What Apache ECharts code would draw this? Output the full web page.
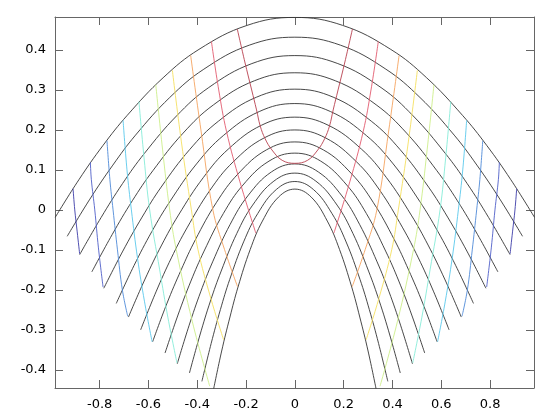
<!DOCTYPE html>
<html><head><meta charset="utf-8">
<script src="https://cdn.jsdelivr.net/npm/echarts@6/dist/echarts.min.js"></script>
<style>html,body{margin:0;padding:0;background:#fff}#c{width:560px;height:420px}</style>
</head><body><div id="c"></div>
<script>
// tick labels
const xTicks = [-0.8, -0.6, -0.4, -0.2, 0, 0.2, 0.4, 0.6, 0.8];
const yTicks = [-0.4, -0.3, -0.2, -0.1, 0, 0.1, 0.2, 0.3, 0.4];

// black rows: left half [x, y], from x=0 to left end (mirror gives right half)
const rows = [
 [[0,0.4815],[-0.196,0.4615],[-0.393,0.4015],[-0.540,0.3305],[-0.687,0.2365],[-0.786,0.1615],[-0.884,0.0765],[-0.982,-0.0185]],
 [[0,0.432],[-0.187,0.412],[-0.373,0.352],[-0.513,0.281],[-0.653,0.187],[-0.746,0.112],[-0.840,0.027],[-0.933,-0.066]],
 [[0,0.386],[-0.176,0.366],[-0.353,0.306],[-0.485,0.235],[-0.617,0.141],[-0.706,0.066],[-0.794,-0.019],[-0.882,-0.112]],
 [[0,0.343],[-0.166,0.323],[-0.333,0.263],[-0.458,0.192],[-0.582,0.098],[-0.666,0.023],[-0.749,-0.062],[-0.832,-0.155]],
 [[0,0.302],[-0.157,0.282],[-0.313,0.222],[-0.431,0.151],[-0.548,0.057],[-0.626,-0.018],[-0.705,-0.103],[-0.783,-0.196]],
 [[0,0.266],[-0.146,0.246],[-0.293,0.186],[-0.403,0.115],[-0.512,0.021],[-0.586,-0.054],[-0.659,-0.139],[-0.732,-0.234]],
 [[0,0.232],[-0.136,0.212],[-0.273,0.152],[-0.375,0.081],[-0.477,-0.013],[-0.546,-0.088],[-0.614,-0.173],[-0.682,-0.268]],
 [[0,0.200],[-0.126,0.180],[-0.253,0.120],[-0.348,0.049],[-0.442,-0.045],[-0.506,-0.120],[-0.569,-0.205],[-0.632,-0.300]],
 [[0,0.170],[-0.117,0.150],[-0.233,0.090],[-0.321,0.019],[-0.408,-0.075],[-0.466,-0.150],[-0.525,-0.235],[-0.583,-0.330]],
 [[0,0.142],[-0.106,0.122],[-0.213,0.062],[-0.293,-0.009],[-0.372,-0.103],[-0.426,-0.178],[-0.479,-0.263],[-0.532,-0.358]],
 [[0,0.115],[-0.096,0.095],[-0.193,0.035],[-0.265,-0.036],[-0.337,-0.130],[-0.386,-0.205],[-0.434,-0.290],[-0.482,-0.385]],
 [[0,0.092],[-0.086,0.072],[-0.173,0.012],[-0.238,-0.059],[-0.302,-0.153],[-0.346,-0.228],[-0.389,-0.313],[-0.432,-0.408]],
 [[0,0.071],[-0.076,0.051],[-0.152,-0.009],[-0.210,-0.080],[-0.267,-0.174],[-0.305,-0.249],[-0.343,-0.334],[-0.381,-0.429]],
 [[0,0.052],[-0.067,0.032],[-0.133,-0.028],[-0.183,-0.099],[-0.233,-0.193],[-0.266,-0.268],[-0.300,-0.353],[-0.333,-0.448]]
];

// coloured contour lines: left side, top to bottom (mirrored for right side)
const contours = [
 [[-0.909,0.053],[-0.902,0.0],[-0.892,-0.055],[-0.882,-0.110]],
 [[-0.838,0.119],[-0.834,0.0755],[-0.820,0.0],[-0.805,-0.095],[-0.786,-0.193]],
 [[-0.770,0.173],[-0.758,0.0755],[-0.745,0.0],[-0.727,-0.1],[-0.707,-0.2],[-0.685,-0.266]],
 [[-0.704,0.224],[-0.688,0.1],[-0.670,0.0],[-0.645,-0.12],[-0.616,-0.23],[-0.585,-0.330]],
 [[-0.639,0.271],[-0.618,0.13],[-0.595,0.0],[-0.554,-0.150],[-0.520,-0.27],[-0.483,-0.383]],
 [[-0.570,0.313],[-0.542,0.15],[-0.513,0.0],[-0.486,-0.1],[-0.42,-0.28],[-0.349,-0.441]],
 [[-0.502,0.349],[-0.465,0.17],[-0.424,0.0],[-0.397,-0.0995],[-0.345,-0.22],[-0.292,-0.325]],
 [[-0.427,0.386],[-0.385,0.20],[-0.336,0.0],[-0.288,-0.0995],[-0.235,-0.192]],
 [[-0.342,0.4215],[-0.312,0.30],[-0.28,0.196],[-0.225,0.07],[-0.160,-0.058]]
];
// central closed-bottom contour, left half, top to bottom
const centreContour = [[-0.236,0.4525],[-0.205,0.37],[-0.177,0.30],[-0.157,0.25],[-0.142,0.21],[-0.122,0.178],[-0.094,0.150],[-0.052,0.124],[0,0.1165]];

const contourColors = ['#3c3ca8','#4f5fc8','#4f8ad8','#5ac8ec','#86ecd8','#cdee8a','#f5e060','#f5a460','#e25a6e'];
const centreColor = '#b8404e';

function mirror(p){ return p.map(q => [-q[0], q[1]]); }

const series = [];
rows.forEach(r => {
  const left = r.slice().reverse();
  const right = mirror(r).slice(1);
  series.push({type:'line', data: left.concat(right), smooth:0.4, showSymbol:false,
    lineStyle:{color:'#333', width:0.9}, silent:true});
});
contours.forEach((c,i) => {
  [c, mirror(c)].forEach(d => series.push({type:'line', data:d, smooth:0.4, showSymbol:false,
    lineStyle:{color:contourColors[i], width:0.9}, silent:true}));
});
series.push({type:'line', data: centreContour.concat(mirror(centreContour).reverse().slice(1)),
  smooth:0.4, showSymbol:false, lineStyle:{color:centreColor, width:0.9}, silent:true});

const chart = echarts.init(document.getElementById('c'), null, {renderer:'canvas'});
const lblFont = {color:'#000', fontSize:13, fontFamily:'DejaVu Sans'};
const axLine = {show:true, onZero:false, lineStyle:{color:'#666', width:1}};
function tick(vals){ return {show:true, inside:true, length:8, lineStyle:{color:'#666'}, customValues:vals}; }
chart.setOption({
  animation:false,
  backgroundColor:'#fff',
  grid:{left:55, right:26, top:17, bottom:32},
  xAxis:[
    {type:'value', min:-0.983, max:0.98, position:'bottom', splitLine:{show:false},
     axisLine:axLine, axisTick:tick(xTicks),
     axisLabel:Object.assign({customValues:xTicks, margin:10}, lblFont)},
    {type:'value', min:-0.983, max:0.98, position:'top', splitLine:{show:false},
     axisLine:axLine, axisTick:tick(xTicks), axisLabel:{show:false}}
  ],
  yAxis:[
    {type:'value', min:-0.4455, max:0.4825, position:'left', splitLine:{show:false},
     axisLine:axLine, axisTick:tick(yTicks),
     axisLabel:Object.assign({customValues:yTicks, margin:9}, lblFont)},
    {type:'value', min:-0.4455, max:0.4825, position:'right', splitLine:{show:false},
     axisLine:axLine, axisTick:tick(yTicks), axisLabel:{show:false}}
  ],
  series: series
});
</script></body></html>
